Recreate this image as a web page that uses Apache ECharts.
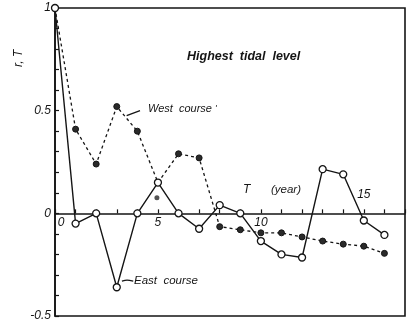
<!DOCTYPE html>
<html>
<head>
<meta charset="utf-8">
<script src="https://cdn.jsdelivr.net/npm/echarts@6/dist/echarts.min.js"></script>
<style>
  html, body { margin: 0; padding: 0; background: #fff; }
  #chart { width: 412px; height: 323px; }
</style>
</head>
<body>
<div id="chart"></div>
<script>
// Lag T in years
const years = [0, 1, 2, 3, 4, 5, 6, 7, 8, 9, 10, 11, 12, 13, 14, 15, 16];
// Autocorrelation r_T of the highest tidal level
const eastCourse = [1.0, -0.05, 0.0, -0.36, 0.0, 0.15, 0.0, -0.075, 0.04, 0.0, -0.135, -0.20, -0.215, 0.215, 0.19, -0.035, -0.105];
const westCourse = [1.0, 0.41, 0.24, 0.52, 0.40, 0.15, 0.29, 0.27, -0.065, -0.08, -0.095, -0.095, -0.115, -0.135, -0.15, -0.16, -0.195];
// loose dot printed just under the T = 5 circle
const looseDot = [[4.95, 0.076]];
// axis labels
const yTickLabels = { '10': '1', '5': '0.5', '0': '0', '-5': '-0.5' };
const xBelowLabels = [0, 5, 10];
const xAboveLabels = [15];

const ink = '#151515';
const font = '"Liberation Sans", "DejaVu Sans", sans-serif';

const chart = echarts.init(document.getElementById('chart'), null, { renderer: 'canvas' });

const westData = westCourse.map((v, i) => i === 0 ? { value: [years[i], v], symbol: 'none' } : [years[i], v]);
const eastData = eastCourse.map((v, i) => [years[i], v]);

const labelStyle = { color: ink, fontFamily: font, fontStyle: 'italic', fontSize: 12 };

chart.setOption({
  animation: false,
  backgroundColor: '#fff',
  grid: {
    left: 55, right: 7, top: 8, bottom: 7,
    containLabel: false, outerBoundsMode: 'none',
    show: true, borderColor: ink, borderWidth: 1.6, backgroundColor: 'transparent'
  },
  xAxis: {
    type: 'value', min: 0, max: 17, interval: 1,
    position: 'bottom',
    axisLine: { onZero: true, lineStyle: { color: ink, width: 1.6 } },
    axisTick: { inside: true, length: 4, lineStyle: { color: ink, width: 1.2 } },
    splitLine: { show: false },
    axisLabel: { show: false }
  },
  yAxis: {
    type: 'value', min: -0.5, max: 1, interval: 0.1,
    position: 'left',
    axisLine: { show: true, onZero: false, lineStyle: { color: ink, width: 1.6 } },
    axisTick: { inside: true, length: 4, lineStyle: { color: ink, width: 1.2 } },
    splitLine: { show: false },
    axisLabel: Object.assign({
      margin: 4,
      formatter: v => yTickLabels[String(Math.round(v * 10))] || ''
    }, labelStyle)
  },
  series: [{
    name: 'West course',
    type: 'line',
    data: westData,
    symbol: 'circle', symbolSize: 6,
    itemStyle: { color: '#2a2a2a', borderColor: ink, borderWidth: 1 },
    lineStyle: { color: ink, width: 1.3, type: [3, 3] },
    z: 2
  }, {
    name: 'loose',
    type: 'scatter',
    data: looseDot,
    symbol: 'circle', symbolSize: 5,
    itemStyle: { color: '#2a2a2a' },
    z: 2
  }, {
    name: 'East course',
    type: 'line',
    data: eastData,
    symbol: 'circle', symbolSize: 7,
    itemStyle: { color: '#fff', borderColor: ink, borderWidth: 1.3 },
    lineStyle: { color: ink, width: 1.4 },
    z: 3
  }]
});

// annotations anchored in data coordinates
const px = p => chart.convertToPixel({ xAxisIndex: 0, yAxisIndex: 0 }, p);
const westLeader = [px([3.48, 0.476]), px([4.13, 0.50])];
const eastLeader = [px([3.25, -0.33]), px([3.5, -0.325]), px([3.8, -0.33])];

const italic = { fontFamily: font, fontStyle: 'italic', fill: ink };

// T tick labels on the zero line: most below it, the last one above it
const belowTicks = xBelowLabels.map(v => {
  const p = px([v, 0]);
  return {
    type: 'text', x: p[0] + (v === 0 ? 6 : 0), y: p[1] + 3,
    style: Object.assign({ text: String(v), fontSize: 12, align: 'center', verticalAlign: 'top' }, italic)
  };
});
const aboveTicks = xAboveLabels.map(v => {
  const p = px([v, 0]);
  return {
    type: 'text', x: p[0], y: p[1] - 13,
    style: Object.assign({ text: String(v), fontSize: 12, align: 'center', verticalAlign: 'bottom' }, italic)
  };
});

chart.setOption({
  graphic: belowTicks.concat(aboveTicks, [
    { type: 'text', left: 187, top: 50, style: Object.assign({ text: 'Highest  tidal  level', fontSize: 12.5, fontWeight: 'bold' }, italic) },
    { type: 'text', left: 148, top: 103, style: Object.assign({ text: 'West  course', fontSize: 11 }, italic) },
    { type: 'text', left: 215, top: 104, style: Object.assign({ text: "'", fontSize: 9 }, italic) },
    { type: 'text', left: 134, top: 275, style: Object.assign({ text: 'East  course', fontSize: 11.5 }, italic) },
    { type: 'text', left: 243, top: 184, style: Object.assign({ text: 'T', fontSize: 12 }, italic) },
    { type: 'text', left: 271, top: 184, style: Object.assign({ text: '(year)', fontSize: 11.5 }, italic) },
    { type: 'text', x: 13, y: 67, rotation: Math.PI / 2,
      style: Object.assign({ text: 'r, T', fontSize: 12 }, italic) },
    { type: 'polyline', shape: { points: westLeader }, style: { stroke: ink, lineWidth: 1.3, fill: null } },
    { type: 'polyline', shape: { points: eastLeader, smooth: 0.3 }, style: { stroke: ink, lineWidth: 1.3, fill: null } }
  ])
});
</script>
</body>
</html>
